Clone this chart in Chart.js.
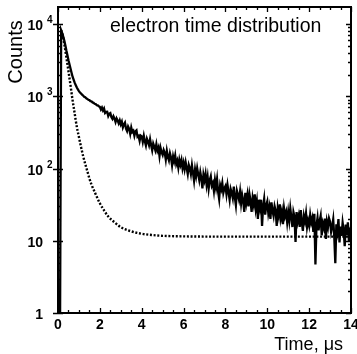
<!DOCTYPE html>
<html>
<head>
<meta charset="utf-8">
<script src="https://cdn.jsdelivr.net/npm/chart.js@4.4.1/dist/chart.umd.min.js"></script>
<style>
  html, body { margin: 0; padding: 0; background: #fff; }
  #wrap { width: 357px; height: 354px; }
</style>
</head>
<body>
<div id="wrap"><canvas id="timeChart" width="357" height="354"></canvas></div>
<script>
// Histogram of electron times, bins of 0.05 us starting at t = 0
const binWidth = 0.05;
const counts = [
    1, 1, 1, 8200, 7500, 6700, 5900, 5100, 4300, 3700, 3150, 2750, 2400, 2100, 1850, 1680, 1530, 1420, 1320, 1240,     // 0 us
    1180, 1128, 1092, 1048, 1022, 985, 968, 936, 921, 893, 884, 852, 848, 821, 812, 787, 781, 752, 749, 724,            // 1 us
    714, 656, 698, 636, 676, 586, 607, 609, 532, 574, 586, 514, 486, 529, 491, 441, 495, 464, 422, 463,                 // 2 us
    409, 445, 371, 406, 431, 357, 330, 381, 355, 302, 369, 320, 333, 284, 326, 337, 274, 282, 242, 286,                 // 3 us
    279, 234, 284, 238, 208, 258, 236, 210, 254, 210, 179, 222, 201, 179, 217, 177, 195, 149, 193, 168,                 // 4 us
    154, 180, 165, 133, 176, 146, 130, 162, 142, 111, 147, 126, 151, 115, 128, 103, 132, 113, 131, 101,                 // 5 us
    120, 98, 122, 101, 84, 112, 101, 84, 111, 87, 68, 97, 79, 101, 83, 69, 89, 73, 53, 82,                              // 6 us
    69, 84, 60, 76, 53, 69, 78, 58, 63, 49, 69, 55, 71, 48, 38, 59, 52, 63, 46, 53,                                     // 7 us
    57, 44, 59, 47, 37, 52, 46, 39, 56, 40, 31, 49, 43, 37, 48, 33, 43, 36, 25, 46,                                     // 8 us
    34, 43, 30, 44, 36, 25, 39, 32, 44, 28, 35, 20, 37, 29, 37, 16, 30, 38, 23, 31,                                     // 9 us
    35, 24, 29, 20, 34, 26, 22, 30, 26, 16, 28, 22.5, 32, 20.5, 25, 17, 28, 22, 25, 18,                                 // 10 us
    25, 19, 28, 21, 15.5, 25, 21.6, 9.6, 25, 18.5, 22, 15.5, 26.5, 18, 13.7, 22, 18.7, 24, 15.5, 19,                    // 11 us
    16.2, 22.7, 17.9, 20.5, 13.3, 23.6, 4.7, 16.3, 20.7, 13.9, 18.6, 22, 11.9, 17.4, 15.2, 20.3, 10.6, 18.4, 15.5, 20.5, // 12 us
    18.4, 13.3, 15.7, 19.7, 11.4, 4.9, 16.9, 13.6, 19.9, 9.5, 15.7, 11.7, 17.8, 13.9, 8.4, 16.7, 12.1, 18, 9.8, 14.2,   // 13 us
    15.5
];

// Dotted fit curve
const fitTimes  = [0.15, 0.2, 0.3, 0.4, 0.5, 0.6, 0.7, 0.8, 0.9, 1.0, 1.1, 1.2, 1.3, 1.4, 1.5, 1.6, 1.8, 2.0, 2.2, 2.4, 2.7, 3.0, 3.5, 4.0, 4.5, 5.0, 6.0, 8.0, 10.0, 12.0, 14.0];
const fitCounts = [8200, 7500, 5300, 3450, 2220, 1400, 870, 570, 375, 273, 199, 149, 116, 92, 73, 60, 44, 33, 26.4, 21.7, 18, 15.4, 13.5, 12.5, 12, 11.7, 11.5, 11.4, 11.4, 11.4, 11.4];

// Axis ticks
const xTickValues = [0, 2, 4, 6, 8, 10, 12, 14];
const xTickLabels = ['0', '2', '4', '6', '8', '10', '12', '14'];
const yTickValues = [1, 10, 100, 1000, 10000];
const yTickBases  = ['1', '10', '10', '10', '10'];
const yTickExps   = ['', '', '2', '3', '4'];

const titleText = 'electron time distribution';
const xTitle = 'Time, \u03bcs';
const yTitle = 'Counts';

const FONT = '"Liberation Sans", Arial, sans-serif';

// Draws the frame, tick marks, tick labels and titles
const framePlugin = {
    id: 'framePlugin',
    afterDraw(chart) {
        const ctx = chart.ctx;
        const a = chart.chartArea;
        const x = chart.scales.x;
        const y = chart.scales.y;
        ctx.save();
        ctx.strokeStyle = '#000';
        ctx.fillStyle = '#000';

        // box
        ctx.lineWidth = 2;
        ctx.strokeRect(a.left, a.top, a.right - a.left, a.bottom - a.top);

        // x ticks, every 0.5 us, longer every 2 us
        ctx.lineWidth = 1.3;
        ctx.beginPath();
        for (let k = 0; k <= 28; k++) {
            const v = k * 0.5;
            const px = Math.round(x.getPixelForValue(v)) + 0.5;
            const len = (k % 4 === 0) ? 5 : 3;
            ctx.moveTo(px, a.bottom);
            ctx.lineTo(px, a.bottom - len);
            ctx.moveTo(px, a.top);
            ctx.lineTo(px, a.top + len);
        }
        // y ticks, log minor ticks
        for (let d = 1; d <= 10000; d *= 10) {
            for (let m = 1; m <= 9; m++) {
                const v = d * m;
                if (v > y.max) break;
                const py = Math.round(y.getPixelForValue(v)) + 0.5;
                const major = m === 1;
                ctx.moveTo(a.left - (major ? 5 : 0), py);
                ctx.lineTo(a.left + (major ? 5 : 3), py);
                ctx.moveTo(a.right, py);
                ctx.lineTo(a.right - (major ? 5 : 3), py);
            }
        }
        ctx.stroke();

        // x tick labels
        ctx.font = 'bold 14px ' + FONT;
        ctx.textAlign = 'center';
        ctx.textBaseline = 'alphabetic';
        xTickValues.forEach((v, i) => {
            ctx.fillText(xTickLabels[i], x.getPixelForValue(v), a.bottom + 16);
        });

        // y tick labels with exponents
        yTickValues.forEach((v, i) => {
            const py = y.getPixelForValue(v);
            ctx.font = 'bold 14px ' + FONT;
            ctx.textAlign = 'right';
            ctx.fillText(yTickBases[i], 43, py + 6);
            if (yTickExps[i]) {
                ctx.font = 'bold 10px ' + FONT;
                ctx.textAlign = 'left';
                ctx.fillText(yTickExps[i], 47, py - 1);
            }
        });

        // title inside the plot
        ctx.font = '19.5px ' + FONT;
        ctx.textAlign = 'left';
        ctx.fillText(titleText, 110, 32);

        // x axis title
        ctx.font = '18px ' + FONT;
        ctx.textAlign = 'right';
        ctx.fillText(xTitle, 343, 350);

        // y axis title
        ctx.translate(22, 52);
        ctx.rotate(-Math.PI / 2);
        ctx.font = '20px ' + FONT;
        ctx.textAlign = 'center';
        ctx.fillText(yTitle, 0, 0);
        ctx.restore();
    }
};

const ctx = document.getElementById('timeChart').getContext('2d');

new Chart(ctx, {
    type: 'line',
    data: {
        datasets: [{
            label: 'data',
            data: counts.map((c, i) => ({ x: i * binWidth, y: c })),
            borderColor: '#000',
            borderWidth: 2.3,
            pointRadius: 0,
            tension: 0,
            order: 0
        }, {
            label: 'fit',
            data: fitTimes.map((t, i) => ({ x: t, y: fitCounts[i] })),
            borderColor: '#000',
            borderWidth: 2.4,
            borderDash: [2, 1.7],
            pointRadius: 0,
            cubicInterpolationMode: 'monotone',
            order: 1
        }]
    },
    options: {
        responsive: false,
        animation: false,
        layout: { padding: { left: 58, right: 6, top: 7, bottom: 41 } },
        plugins: { legend: { display: false }, tooltip: { enabled: false } },
        scales: {
            x: { type: 'linear', min: 0, max: 14, display: false },
            y: { type: 'logarithmic', min: 1, max: 17200, display: false }
        }
    },
    plugins: [framePlugin]
});
</script>
</body>
</html>
